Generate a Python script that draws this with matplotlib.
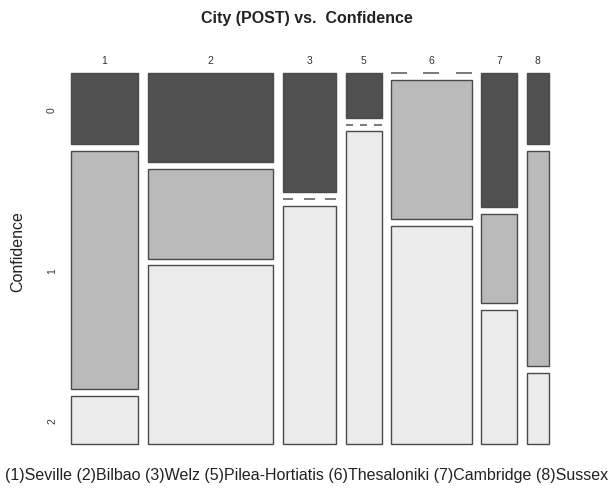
import numpy as np
import matplotlib
matplotlib.use("Agg")
import matplotlib.pyplot as plt
from matplotlib.patches import Rectangle

plt.rcParams['font.family'] = ['Liberation Sans', 'DejaVu Sans']

# counts of Confidence level per city (POST survey)
cities = ["1", "2", "3", "5", "6", "7", "8"]
city_names = ["Seville", "Bilbao", "Welz", "Pilea-Hortiatis", "Thesaloniki", "Cambridge", "Sussex"]
levels = ["0", "1", "2"]
conf0 = [3, 7, 4, 1, 0, 3, 1]
conf1 = [10, 7, 0, 0, 7, 2, 3]
conf2 = [2, 14, 8, 7, 11, 3, 1]

fills = ["#505050", "#BABABA", "#EBEBEB"]
edge = "#4a4a4a"

counts = np.array([conf0, conf1, conf2])
col_tot = counts.sum(axis=0)
N = col_tot.sum()

fig = plt.figure(figsize=(6.13, 4.89), dpi=100)
W, H = 613, 489
ax = fig.add_axes([71 / W, 1 - 445 / H, (549 - 71) / W, (445 - 74) / H])
ax.set_xlim(0, 1)
ax.set_ylim(1, 0)
for s in ax.spines.values():
    s.set_visible(False)

gx = 9.6 / 479   # gap between cities
gy = 6.9 / 372   # gap between confidence levels
widths = (1 - gx * (len(cities) - 1)) * col_tot / N

x = 0.0
centers = []
first_col_mid = []
for j in range(len(cities)):
    w = widths[j]
    y = 0.0
    for i in range(len(levels)):
        h = (1 - gy * (len(levels) - 1)) * counts[i, j] / col_tot[j]
        if counts[i, j] == 0:
            # empty cell: three dashes across the column
            for k in (0, 2, 4):
                ax.plot([x + k * w / 5, x + (k + 1) * w / 5], [y, y],
                        color="#555555", lw=1.1, solid_capstyle="butt", clip_on=False)
        else:
            ax.add_patch(Rectangle((x, y), w, h, facecolor=fills[i],
                                   edgecolor=edge, lw=1.0, clip_on=False))
        if j == 0:
            first_col_mid.append(y + h / 2)
        y += h + gy
    centers.append(x + w / 2)
    x += w + gx

ax.xaxis.tick_top()
ax.set_xticks(centers)
ax.set_xticklabels(cities, fontsize=7.5, color="#333333")
ax.set_yticks(first_col_mid)
ax.set_yticklabels(levels, fontsize=7.5, rotation=90, va="center", color="#333333")
ax.tick_params(axis="x", length=0, pad=6)
ax.tick_params(axis="y", length=0, pad=10)

fig.text(0.5, 1 - 18 / H, "City (POST) vs.  Confidence", ha="center", va="center",
         fontsize=11.5, fontweight="bold", color="#222222")
fig.text(18 / W, 1 - 252 / H, "Confidence", rotation=90, ha="center", va="center",
         fontsize=11.5, color="#222222")
xlab = " ".join("(%s)%s" % (c, n) for c, n in zip(cities, city_names))
fig.text(0.5, 1 - 476 / H, xlab, ha="center", va="center", fontsize=11.5, color="#222222")

fig.savefig("out.png", dpi=100, facecolor="white")
